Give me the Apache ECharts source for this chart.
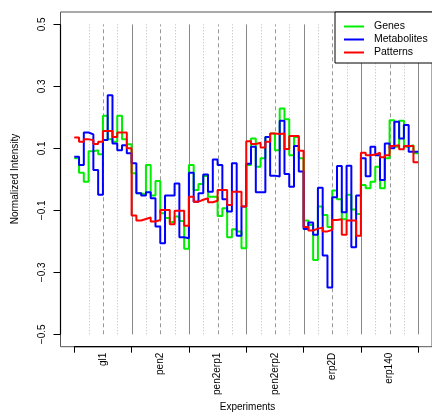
<!DOCTYPE html>
<html><head><meta charset="utf-8">
<script src="https://cdn.jsdelivr.net/npm/echarts@6/dist/echarts.min.js"></script>
<style>html,body{margin:0;padding:0;background:#fff}#c{width:432px;height:414px}</style>
</head><body><div id="c"></div>
<script>
const experiments = ['gl1','pen2','pen2erp1','pen2erp2','erp2D','erp140'];
const samplesPerGroup = 12;
const genes = [
  0.068, 0.021, -0.008, 0.091, 0.094, 0.081, 0.205, 0.129, 0.121, 0.205, 0.129, 0.113,
  0.020, -0.045, -0.050, 0.046, -0.052, -0.005, -0.109, -0.125, -0.138, -0.120, -0.134, -0.224,
  0.046, -0.034, -0.015, 0.011, -0.056, -0.056, -0.118, -0.093, -0.187, -0.161, -0.168, -0.222,
  0.046, 0.132, 0.041, 0.068, 0.137, 0.148, 0.094, 0.229, 0.194, 0.078, 0.137, 0.068,
  -0.133, -0.147, -0.260, -0.088, -0.115, -0.154, -0.036, -0.064, -0.129, -0.050, -0.097, -0.112,
  -0.018, -0.029, -0.008, 0.041, -0.029, 0.068, 0.191, 0.105, 0.189, 0.105, 0.110, 0.084
];
const metabolites = [
  0.073, 0.046, 0.151, 0.145, 0.030, -0.050, 0.127, 0.271, 0.116, 0.094, 0.110, 0.084,
  0.052, -0.045, -0.052, -0.042, -0.061, -0.152, -0.206, -0.052, -0.052, -0.013, -0.187, -0.190,
  0.021, -0.072, -0.045, 0.016, -0.040, 0.064, 0.046, -0.064, -0.104, 0.052, -0.182, -0.088,
  0.050, 0.105, -0.042, -0.042, 0.137, 0.012, 0.009, 0.189, 0.017, -0.024, 0.108, 0.025,
  -0.160, -0.139, -0.179, -0.027, -0.246, -0.349, -0.058, 0.043, -0.106, 0.044, -0.219, -0.052,
  0.068, 0.010, 0.105, 0.078, -0.002, 0.116, 0.100, 0.186, 0.132, 0.175, 0.089, 0.089
];
const patterns = [
  0.135, 0.121, 0.129, 0.127, 0.114, 0.121, 0.156, 0.156, 0.137, 0.151, 0.151, 0.100,
  -0.117, -0.133, -0.128, -0.123, -0.136, -0.131, -0.099, -0.099, -0.145, -0.101, -0.101, -0.150,
  -0.056, -0.072, -0.066, -0.061, -0.074, -0.069, -0.034, -0.034, -0.083, -0.040, -0.040, -0.088,
  0.123, 0.114, 0.118, 0.103, 0.121, 0.148, 0.146, 0.148, 0.098, 0.140, 0.140, 0.092,
  -0.154, -0.165, -0.159, -0.156, -0.168, -0.163, -0.131, -0.129, -0.179, -0.133, -0.133, -0.182,
  0.086, 0.078, 0.080, 0.086, 0.071, 0.078, 0.108, 0.110, 0.097, 0.108, 0.108, 0.055
];
const yTicks = [-0.5, -0.3, -0.1, 0.1, 0.3, 0.5];

const nTotal = experiments.length * samplesPerGroup;
const xTicks = experiments.map((e,i)=>i*samplesPerGroup).concat([nTotal]);
const xLabelPos = experiments.map((e,i)=>i*samplesPerGroup + samplesPerGroup/2);
// dividers: solid at group boundaries, dashed at half, dotted at quarters
const dividers = [];
for (let g = 0; g < experiments.length; g++) {
  const s = g*samplesPerGroup;
  dividers.push([s + 3, 'dotted']);
  dividers.push([s + 6, 'dashed']);
  dividers.push([s + 9, 'dotted']);
  dividers.push([s + 12, 'solid']);
}
function stepData(arr){ const d = arr.map((v,i)=>[i,v]); d.push([arr.length, arr[arr.length-1]]); return d; }

const font = '"Liberation Sans", Arial, Helvetica, sans-serif';
const chart = echarts.init(document.getElementById('c'), null, {renderer:'canvas'});
const pad = nTotal*0.04;
const yMin = -0.54, yMax = 0.54;
chart.setOption({
  animation:false,
  backgroundColor:'#fff',
  grid:{left:60.5, right:-2.8, top:12, bottom:67.3, show:true, borderColor:'#555', borderWidth:1, backgroundColor:'transparent'},
  xAxis:{type:'value', min:-pad, max:nTotal+pad,
    axisLine:{show:false, onZero:false}, splitLine:{show:false},
    axisTick:{show:true, customValues:xTicks, length:6, lineStyle:{color:'#000'}},
    axisLabel:{show:true, customValues:xLabelPos, rotate:90, margin:6, fontSize:10, fontFamily:font, color:'#000',
      formatter:(v)=>experiments[Math.round((v - samplesPerGroup/2)/samplesPerGroup)]}
  },
  yAxis:{type:'value', min:yMin, max:yMax,
    axisLine:{show:false, onZero:false}, splitLine:{show:false},
    axisTick:{show:true, customValues:yTicks, length:7, lineStyle:{color:'#000'}},
    axisLabel:{show:true, customValues:yTicks, rotate:90, margin:13, fontSize:10, fontFamily:font, color:'#000',
      formatter:(v)=>(v<0?'\u2212':'')+Math.abs(v).toFixed(1)}
  },
  legend:{data:['Genes','Metabolites','Patterns'], orient:'vertical', left:335, top:12,
    padding:[8,6,4,9], itemGap:0, itemWidth:20, itemHeight:2, icon:'rect',
    borderColor:'#000', borderWidth:1, backgroundColor:'#fff', borderRadius:0,
    textStyle:{fontSize:10.5, fontFamily:font, color:'#000', lineHeight:13, padding:[0,0,0,5]}},
  graphic:[
    {type:'text', x:15, y:179, rotation:Math.PI/2, style:{text:'Normalized Intensity', fontSize:10, fontFamily:font, fill:'#000', align:'center', verticalAlign:'middle'}},
    {type:'text', x:247.5, y:407, style:{text:'Experiments', fontSize:10, fontFamily:font, fill:'#000', align:'center', verticalAlign:'middle'}}
  ],
  series:[
    {type:'custom', silent:true, z:1, data:dividers,
      renderItem:(params, api)=>{
        const x = api.value(0); const kind = dividers[params.dataIndex][1];
        const p1 = api.coord([x, yTicks[0]]); const p2 = api.coord([x, yTicks[yTicks.length-1]]);
        const xx = Math.round(p1[0]) + 0.5;
        const style = kind==='solid' ? {stroke:'#888', lineWidth:1}
          : kind==='dashed' ? {stroke:'#999', lineWidth:1, lineDash:[4,3]}
          : {stroke:'#bbb', lineWidth:1, lineDash:[1,2]};
        return {type:'line', shape:{x1:xx, y1:p1[1], x2:xx, y2:p2[1]}, style:style};
      }},
    // R-style axis lines: x from first to last tick, y from first to last tick
    {type:'custom', silent:true, z:6, clip:false, data:[[0]],
      renderItem:(params, api)=>{
        const a = api.coord([xTicks[0], yMin]), b = api.coord([xTicks[xTicks.length-1], yMin]);
        const c = api.coord([-pad, yTicks[0]]), d = api.coord([-pad, yTicks[yTicks.length-1]]);
        return {type:'group', children:[
          {type:'line', shape:{x1:a[0], y1:a[1], x2:b[0], y2:b[1]}, style:{stroke:'#000', lineWidth:1.2}},
          {type:'line', shape:{x1:c[0], y1:c[1], x2:d[0], y2:d[1]}, style:{stroke:'#000', lineWidth:1.2}}
        ]};
      }},
    {name:'Genes', type:'line', step:'end', data:stepData(genes), showSymbol:false, symbol:'none', z:3,
      color:'#00ee00', lineStyle:{color:'#00ee00', width:2}},
    {name:'Metabolites', type:'line', step:'end', data:stepData(metabolites), showSymbol:false, symbol:'none', z:4,
      color:'#0000ff', lineStyle:{color:'#0000ff', width:2}},
    {name:'Patterns', type:'line', step:'end', data:stepData(patterns), showSymbol:false, symbol:'none', z:5,
      color:'#ff0000', lineStyle:{color:'#ff0000', width:2}}
  ]
});
</script></body></html>
